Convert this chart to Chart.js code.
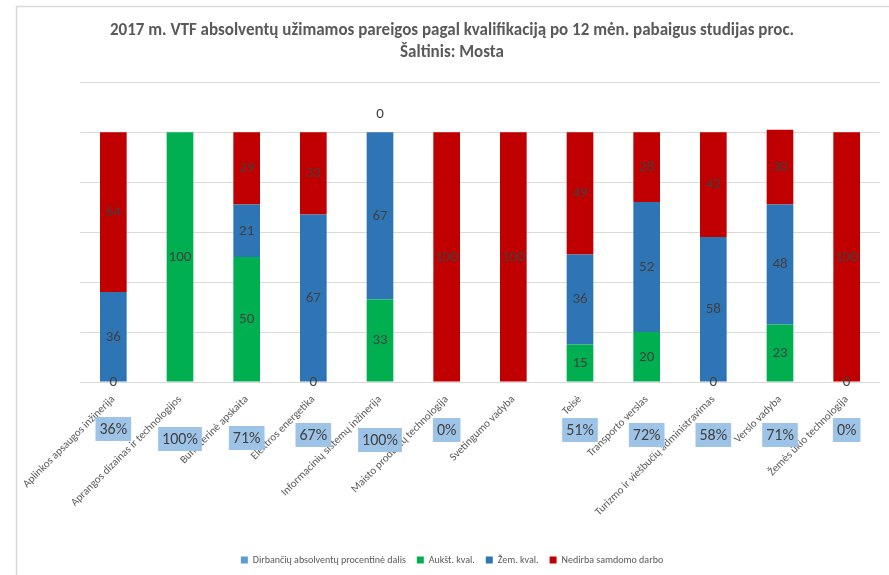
<!DOCTYPE html>
<html>
<head>
<meta charset="utf-8">
<script src="https://cdn.jsdelivr.net/npm/chart.js@4.4.1/dist/chart.umd.min.js"></script>
<style>
  html, body { margin: 0; background: #fff; }
  #wrap { width: 889px; height: 575px; position: relative; }
</style>
</head>
<body>
<div id="wrap"><canvas id="qualChart"></canvas></div>
<script>
// Data
const categories = [
  "Aplinkos apsaugos inžinerija",
  "Aprangos dizainas ir technologijos",
  "Buhalterinė apskaita",
  "Elektros energetika",
  "Informacinių sistemų inžinerija",
  "Maisto produktų technologija",
  "Svetingumo vadyba",
  "Teisė",
  "Transporto verslas",
  "Turizmo ir viešbučių administravimas",
  "Verslo vadyba",
  "Žemės ūkio technologija"
];
const workingShare = [36, 100, 71, 67, 100, 0, null, 51, 72, 58, 71, 0];
const highQual = [0, 100, 50, 0, 33, null, null, 15, 20, 0, 23, 0];
const lowQual = [36, null, 21, 67, 67, null, null, 36, 52, 58, 48, null];
const notHired = [64, null, 29, 33, 0, 100, 100, 49, 28, 42, 30, 100];

// how far below the axis each percentage box sits
const boxDrop = [47, 57, 56, 53, 58, 48, 0, 48, 53, 53, 53, 48];

const FONT = 'Carlito, "Liberation Sans Narrow", "Open Sans", sans-serif';
Chart.defaults.font.family = FONT;

const framePlugin = {
  id: "frame",
  beforeDraw(chart) {
    const ctx = chart.ctx;
    ctx.save();
    ctx.strokeStyle = "#D9D9D9";
    ctx.lineWidth = 1.5;
    ctx.beginPath();
    ctx.moveTo(16.5, chart.height);
    ctx.lineTo(16.5, 6.5);
    ctx.lineTo(chart.width, 6.5);
    ctx.stroke();
    ctx.restore();
  }
};

const labelPlugin = {
  id: "segLabels",
  afterDatasetsDraw(chart) {
    const ctx = chart.ctx;
    ctx.save();
    ctx.textAlign = "center";
    ctx.textBaseline = "middle";
    ctx.fillStyle = "#404040";
    ctx.font = "15px " + FONT;
    for (let d = 1; d < chart.data.datasets.length; d++) {
      const meta = chart.getDatasetMeta(d);
      chart.data.datasets[d].data.forEach((v, i) => {
        if (v === null) return;
        const el = meta.data[i];
        let y = (el.y + el.base) / 2;
        if (v === 0 && d === chart.data.datasets.length - 1) y = el.y - 18;
        ctx.fillText(String(v), el.x, y);
      });
    }
    // percentage boxes under the axis
    const meta0 = chart.getDatasetMeta(0);
    const bottom = chart.chartArea.bottom;
    ctx.font = "16px " + FONT;
    chart.data.datasets[0].data.forEach((v, i) => {
      if (v === null) return;
      const txt = v + "%";
      const x = meta0.data[i].x;
      const y = bottom + boxDrop[i];
      const w = ctx.measureText(txt).width + 8;
      ctx.fillStyle = "#9DC3E6";
      ctx.fillRect(x - w / 2, y - 12, w, 24);
      ctx.fillStyle = "#404040";
      ctx.fillText(txt, x, y + 1);
    });
    ctx.restore();
  }
};

new Chart(document.getElementById("qualChart"), {
  type: "bar",
  data: {
    labels: categories,
    datasets: [
      {
        label: "Dirbančių absolventų procentinė dalis",
        data: workingShare,
        backgroundColor: "#5B9BD5",
        yAxisID: "yShare",
        grouped: false,
        barPercentage: 0,
        borderWidth: 0
      },
      { label: "Aukšt. kval.", data: highQual, backgroundColor: "#00B050" },
      { label: "Žem. kval.", data: lowQual, backgroundColor: "#2E75B6" },
      { label: "Nedirba samdomo darbo", data: notHired, backgroundColor: "#C00000" }
    ]
  },
  options: {
    responsive: true,
    maintainAspectRatio: false,
    animation: false,
    barPercentage: 0.4,
    categoryPercentage: 1.0,
    layout: { padding: { left: 24, right: 9, top: 0, bottom: 0 } },
    plugins: {
      title: {
        display: true,
        text: [
          "2017 m. VTF absolventų užimamos pareigos pagal kvalifikaciją po 12 mėn. pabaigus studijas proc.",
          "Šaltinis: Mosta"
        ],
        color: "#595959",
        font: { size: 17, weight: "bold", lineHeight: 1.3 },
        padding: { top: 20, bottom: 18 }
      },
      legend: {
        position: "bottom",
        labels: {
          boxWidth: 7,
          boxHeight: 7,
          padding: 11,
          color: "#595959",
          font: { size: 10 }
        }
      },
      tooltip: { enabled: false }
    },
    scales: {
      x: {
        stacked: true,
        grid: { display: false },
        border: { display: false },
        ticks: {
          autoSkip: false,
          maxRotation: 45,
          minRotation: 45,
          color: "#595959",
          font: { size: 11 }
        },
        afterFit(s) {
          s.height = s.chart.height - s.chart.legend.height - 382;
        }
      },
      y: {
        stacked: true,
        min: 0,
        max: 120,
        ticks: { display: false, stepSize: 20 },
        border: { display: false },
        grid: { color: "#D9D9D9", drawTicks: false },
        afterFit(s) { s.width = 56; }
      },
      yShare: {
        display: false,
        min: 0,
        max: 100
      }
    }
  },
  plugins: [framePlugin, labelPlugin]
});
</script>
</body>
</html>
